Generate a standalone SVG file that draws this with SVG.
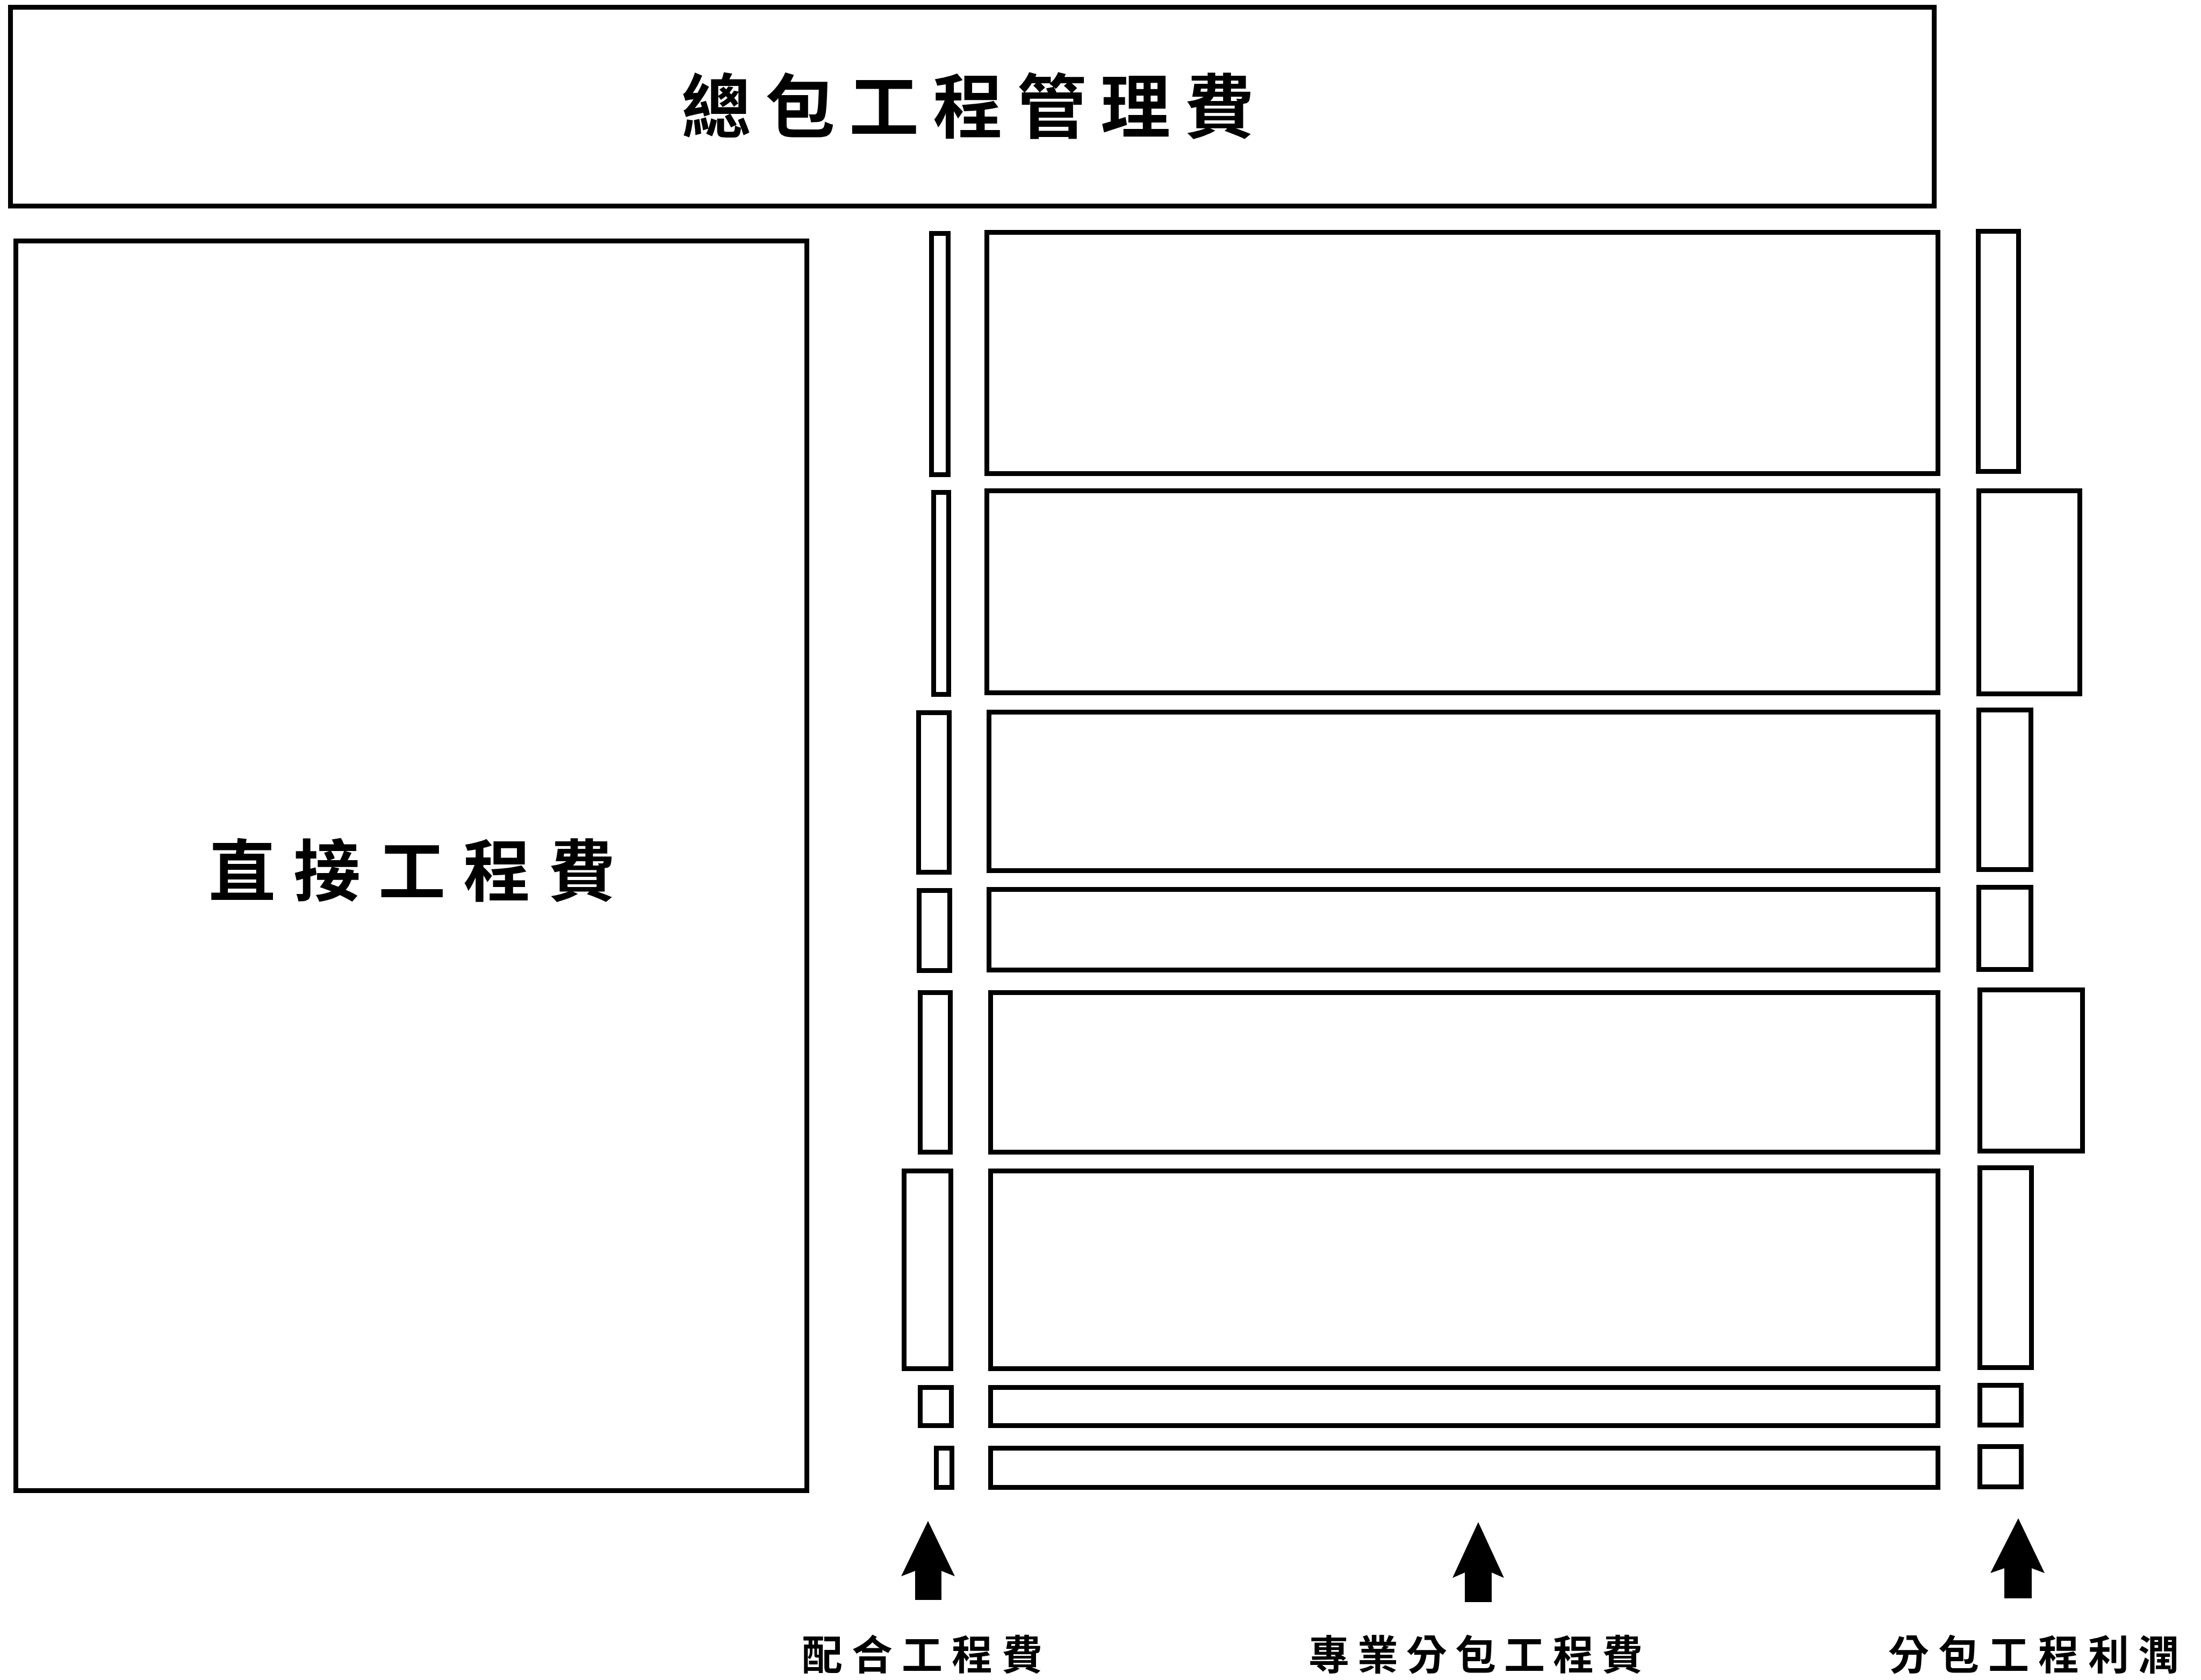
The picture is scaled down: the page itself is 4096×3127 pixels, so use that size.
<svg xmlns="http://www.w3.org/2000/svg" width="4096" height="3127" viewBox="0 0 4096 3127">
<style>
.b{fill:#fff;stroke:#000;stroke-width:9}
.big{font-family:"Noto Sans CJK TC","Noto Sans CJK SC",sans-serif;font-weight:bold;fill:#000}
.lbl{font-family:"Noto Sans CJK TC","Noto Sans CJK SC",sans-serif;font-weight:bold;font-size:76px;fill:#000}
.ar{fill:#000}
</style>
<rect width="4096" height="3127" fill="#fff"/>
<g id="total-mgmt">
<rect class="b" x="19.5" y="13.5" width="3580" height="370"/>
<text class="big" x="1268" y="246" font-size="130" letter-spacing="26">總包工程管理費</text>
</g>
<g id="direct-cost">
<rect class="b" x="29.5" y="448.5" width="1472" height="2326"/>
<text class="big" x="388" y="1667" font-size="125" letter-spacing="33">直接工程費</text>
</g>
<g id="coordination-col">
<rect class="b" x="1733.5" y="434.5" width="31" height="449"/>
<rect class="b" x="1737.5" y="916.5" width="28" height="376"/>
<rect class="b" x="1709.5" y="1326.5" width="57" height="297"/>
<rect class="b" x="1710.5" y="1657.5" width="57" height="149"/>
<rect class="b" x="1712.5" y="1847.5" width="56" height="297"/>
<rect class="b" x="1682.5" y="2179.5" width="87" height="368"/>
<rect class="b" x="1712.5" y="2582.5" width="58" height="71"/>
<rect class="b" x="1742.5" y="2695.5" width="29" height="73"/>
</g>
<g id="subcontract-col">
<rect class="b" x="1836.5" y="432.5" width="1770" height="449"/>
<rect class="b" x="1836.5" y="913.5" width="1770" height="376"/>
<rect class="b" x="1840.5" y="1325.5" width="1766" height="295"/>
<rect class="b" x="1840.5" y="1655.5" width="1766" height="150"/>
<rect class="b" x="1843.5" y="1847.5" width="1763" height="297"/>
<rect class="b" x="1843.5" y="2179.5" width="1763" height="368"/>
<rect class="b" x="1843.5" y="2582.5" width="1763" height="71"/>
<rect class="b" x="1843.5" y="2695.5" width="1763" height="73"/>
</g>
<g id="profit-col">
<rect class="b" x="3681.5" y="430.5" width="75" height="447"/>
<rect class="b" x="3682.5" y="913.5" width="188" height="378"/>
<rect class="b" x="3682.5" y="1321.5" width="97" height="297"/>
<rect class="b" x="3682.5" y="1651.5" width="97" height="153"/>
<rect class="b" x="3684.5" y="1842.5" width="191" height="300"/>
<rect class="b" x="3684.5" y="2173.5" width="96" height="372"/>
<rect class="b" x="3684.5" y="2578.5" width="77" height="74"/>
<rect class="b" x="3684.5" y="2692.5" width="77" height="75"/>
</g>
<g id="connectors">
<path class="ar" d="M1727,2831 L1777,2934 L1752,2924 L1752,2978 L1703,2978 L1703,2924 L1677,2934 Z"/>
<path class="ar" d="M2751,2833 L2799,2937 L2776,2927 L2776,2982 L2726,2982 L2726,2927 L2703,2937 Z"/>
<path class="ar" d="M3756,2826 L3805,2928 L3781,2919 L3781,2975 L3730,2975 L3730,2919 L3704,2928 Z"/>
</g>
<g id="labels">
<text class="lbl" x="1492" y="3108" letter-spacing="17">配合工程費</text>
<text class="lbl" x="2435" y="3108" letter-spacing="15">專業分包工程費</text>
<text class="lbl" x="3514" y="3108" letter-spacing="17">分包工程利潤</text>
</g>
</svg>
